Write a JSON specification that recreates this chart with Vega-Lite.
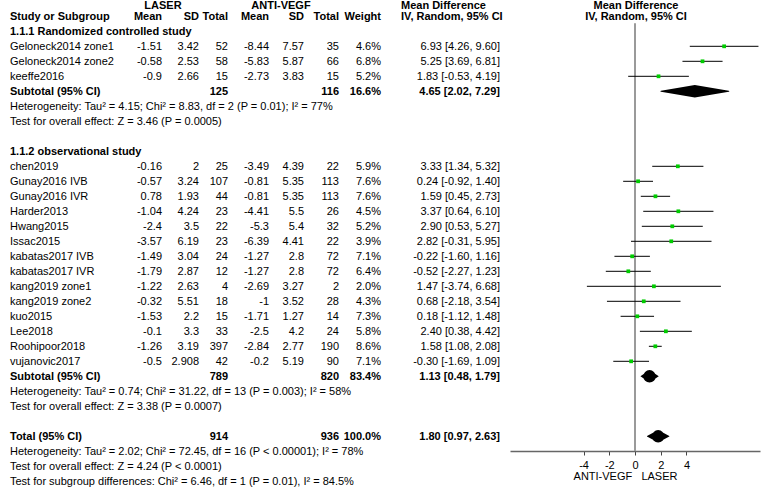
{
  "$schema": "https://vega.github.io/schema/vega-lite/v6.json",
  "width": 771,
  "height": 451,
  "autosize": "none",
  "padding": {"left": 0, "top": 0, "right": 0, "bottom": 38},
  "config": {
    "view": {"stroke": null},
    "text": {"font": "Liberation Sans", "fontSize": 11, "color": "#000", "baseline": "middle"},
    "axis": {"labelFont": "Liberation Sans", "titleFont": "Liberation Sans"}
  },
  "datasets": {
    "studies": [
      {"row": 3, "name": "Geloneck2014 zone1", "lmean": -1.51, "lsd": 3.42, "ltot": 52, "amean": -8.44, "asd": 7.57, "atot": 35, "weight": "4.6%", "md": 6.93, "lo": 4.26, "hi": 9.60, "ci": "6.93 [4.26, 9.60]"},
      {"row": 4, "name": "Geloneck2014 zone2", "lmean": -0.58, "lsd": 2.53, "ltot": 58, "amean": -5.83, "asd": 5.87, "atot": 66, "weight": "6.8%", "md": 5.25, "lo": 3.69, "hi": 6.81, "ci": "5.25 [3.69, 6.81]"},
      {"row": 5, "name": "keeffe2016", "lmean": -0.9, "lsd": 2.66, "ltot": 15, "amean": -2.73, "asd": 3.83, "atot": 15, "weight": "5.2%", "md": 1.83, "lo": -0.53, "hi": 4.19, "ci": "1.83 [-0.53, 4.19]"},
      {"row": 11, "name": "chen2019", "lmean": -0.16, "lsd": 2, "ltot": 25, "amean": -3.49, "asd": 4.39, "atot": 22, "weight": "5.9%", "md": 3.33, "lo": 1.34, "hi": 5.32, "ci": "3.33 [1.34, 5.32]"},
      {"row": 12, "name": "Gunay2016 IVB", "lmean": -0.57, "lsd": 3.24, "ltot": 107, "amean": -0.81, "asd": 5.35, "atot": 113, "weight": "7.6%", "md": 0.24, "lo": -0.92, "hi": 1.40, "ci": "0.24 [-0.92, 1.40]"},
      {"row": 13, "name": "Gunay2016 IVR", "lmean": 0.78, "lsd": 1.93, "ltot": 44, "amean": -0.81, "asd": 5.35, "atot": 113, "weight": "7.6%", "md": 1.59, "lo": 0.45, "hi": 2.73, "ci": "1.59 [0.45, 2.73]"},
      {"row": 14, "name": "Harder2013", "lmean": -1.04, "lsd": 4.24, "ltot": 23, "amean": -4.41, "asd": 5.5, "atot": 26, "weight": "4.5%", "md": 3.37, "lo": 0.64, "hi": 6.10, "ci": "3.37 [0.64, 6.10]"},
      {"row": 15, "name": "Hwang2015", "lmean": -2.4, "lsd": 3.5, "ltot": 22, "amean": -5.3, "asd": 5.4, "atot": 32, "weight": "5.2%", "md": 2.90, "lo": 0.53, "hi": 5.27, "ci": "2.90 [0.53, 5.27]"},
      {"row": 16, "name": "Issac2015", "lmean": -3.57, "lsd": 6.19, "ltot": 23, "amean": -6.39, "asd": 4.41, "atot": 22, "weight": "3.9%", "md": 2.82, "lo": -0.31, "hi": 5.95, "ci": "2.82 [-0.31, 5.95]"},
      {"row": 17, "name": "kabatas2017 IVB", "lmean": -1.49, "lsd": 3.04, "ltot": 24, "amean": -1.27, "asd": 2.8, "atot": 72, "weight": "7.1%", "md": -0.22, "lo": -1.60, "hi": 1.16, "ci": "-0.22 [-1.60, 1.16]"},
      {"row": 18, "name": "kabatas2017 IVR", "lmean": -1.79, "lsd": 2.87, "ltot": 12, "amean": -1.27, "asd": 2.8, "atot": 72, "weight": "6.4%", "md": -0.52, "lo": -2.27, "hi": 1.23, "ci": "-0.52 [-2.27, 1.23]"},
      {"row": 19, "name": "kang2019 zone1", "lmean": -1.22, "lsd": 2.63, "ltot": 4, "amean": -2.69, "asd": 3.27, "atot": 2, "weight": "2.0%", "md": 1.47, "lo": -3.74, "hi": 6.68, "ci": "1.47 [-3.74, 6.68]"},
      {"row": 20, "name": "kang2019 zone2", "lmean": -0.32, "lsd": 5.51, "ltot": 18, "amean": -1, "asd": 3.52, "atot": 28, "weight": "4.3%", "md": 0.68, "lo": -2.18, "hi": 3.54, "ci": "0.68 [-2.18, 3.54]"},
      {"row": 21, "name": "kuo2015", "lmean": -1.53, "lsd": 2.2, "ltot": 15, "amean": -1.71, "asd": 1.27, "atot": 14, "weight": "7.3%", "md": 0.18, "lo": -1.12, "hi": 1.48, "ci": "0.18 [-1.12, 1.48]"},
      {"row": 22, "name": "Lee2018", "lmean": -0.1, "lsd": 3.3, "ltot": 33, "amean": -2.5, "asd": 4.2, "atot": 24, "weight": "5.8%", "md": 2.40, "lo": 0.38, "hi": 4.42, "ci": "2.40 [0.38, 4.42]"},
      {"row": 23, "name": "Roohipoor2018", "lmean": -1.26, "lsd": 3.19, "ltot": 397, "amean": -2.84, "asd": 2.77, "atot": 190, "weight": "8.6%", "md": 1.58, "lo": 1.08, "hi": 2.08, "ci": "1.58 [1.08, 2.08]"},
      {"row": 24, "name": "vujanovic2017", "lmean": -0.5, "lsd": 2.908, "ltot": 42, "amean": -0.2, "asd": 5.19, "atot": 90, "weight": "7.1%", "md": -0.30, "lo": -1.69, "hi": 1.09, "ci": "-0.30 [-1.69, 1.09]"}
    ],
    "pooled": [
      {"row": 6, "name": "Subtotal (95% CI)", "ltot": 125, "atot": 116, "weight": "16.6%", "md": 4.65, "lo": 2.02, "hi": 7.29, "ci": "4.65 [2.02, 7.29]"},
      {"row": 25, "name": "Subtotal (95% CI)", "ltot": 789, "atot": 820, "weight": "83.4%", "md": 1.13, "lo": 0.48, "hi": 1.79, "ci": "1.13 [0.48, 1.79]"},
      {"row": 29, "name": "Total (95% CI)", "ltot": 914, "atot": 936, "weight": "100.0%", "md": 1.80, "lo": 0.97, "hi": 2.63, "ci": "1.80 [0.97, 2.63]"}
    ],
    "groups": [
      {"row": 2, "text": "1.1.1 Randomized controlled study"},
      {"row": 10, "text": "1.1.2 observational study"}
    ],
    "notes": [
      {"row": 7, "text": "Heterogeneity: Tau² = 4.15; Chi² = 8.83, df = 2 (P = 0.01); I² = 77%"},
      {"row": 8, "text": "Test for overall effect: Z = 3.46 (P = 0.0005)"},
      {"row": 26, "text": "Heterogeneity: Tau² = 0.74; Chi² = 31.22, df = 13 (P = 0.003); I² = 58%"},
      {"row": 27, "text": "Test for overall effect: Z = 3.38 (P = 0.0007)"},
      {"row": 30, "text": "Heterogeneity: Tau² = 2.02; Chi² = 72.45, df = 16 (P < 0.00001); I² = 78%"},
      {"row": 31, "text": "Test for overall effect: Z = 4.24 (P < 0.0001)"},
      {"row": 32, "text": "Test for subgroup differences: Chi² = 6.46, df = 1 (P = 0.01), I² = 84.5%"}
    ],
    "headers": [
      {"row": 0, "col": 9, "text": "LASER"},
      {"row": 0, "col": 10, "text": "ANTI-VEGF"},
      {"row": 0, "col": 11, "text": "Mean Difference"},
      {"row": 0, "col": 12, "text": "Mean Difference"},
      {"row": 1, "col": 0, "text": "Study or Subgroup"},
      {"row": 1, "col": 1, "text": "Mean"},
      {"row": 1, "col": 2, "text": "SD"},
      {"row": 1, "col": 3, "text": "Total"},
      {"row": 1, "col": 4, "text": "Mean"},
      {"row": 1, "col": 5, "text": "SD"},
      {"row": 1, "col": 6, "text": "Total"},
      {"row": 1, "col": 7, "text": "Weight"},
      {"row": 1, "col": 11, "text": "IV, Random, 95% CI"},
      {"row": 1, "col": 12, "text": "IV, Random, 95% CI"}
    ],
    "nullEffect": [
      {"md": 0}
    ]
  },
  "resolve": {"scale": {"x": "independent"}, "axis": {"x": "independent"}},
  "layer": [
    {
      "encoding": {
        "y": {"field": "row", "type": "quantitative", "scale": {"domain": [-0.0867, 29.98], "reverse": true, "nice": false, "zero": false}, "axis": null}
      },
      "layer": [
        {"data": {"values": [{}]}, "mark": {"type": "rule", "color": "#777", "strokeWidth": 1.5},
         "encoding": {"y": {"datum": 1.467, "type": "quantitative", "scale": {"domain": [-0.0867, 29.98], "reverse": true, "nice": false, "zero": false}, "axis": null}}},
        {"data": {"name": "studies"}, "mark": {"type": "text", "align": "left", "dy": 1},
         "encoding": {"x": {"datum": 0, "type": "quantitative", "scale": {"domain": [0,1,2,3,4,5,6,7,8,9,10,11,12], "range": [10,162,199,228,269,304,339,381,500,163,281,401,636], "nice": false, "zero": false}, "axis": null}, "text": {"field": "name", "type": "nominal"}}},
        {"data": {"name": "studies"}, "mark": {"type": "text", "align": "right", "dy": 1},
         "encoding": {"x": {"datum": 1, "type": "quantitative", "scale": {"domain": [0,1,2,3,4,5,6,7,8,9,10,11,12], "range": [10,162,199,228,269,304,339,381,500,163,281,401,636], "nice": false, "zero": false}, "axis": null}, "text": {"field": "lmean", "type": "nominal"}}},
        {"data": {"name": "studies"}, "mark": {"type": "text", "align": "right", "dy": 1},
         "encoding": {"x": {"datum": 2, "type": "quantitative", "scale": {"domain": [0,1,2,3,4,5,6,7,8,9,10,11,12], "range": [10,162,199,228,269,304,339,381,500,163,281,401,636], "nice": false, "zero": false}, "axis": null}, "text": {"field": "lsd", "type": "nominal"}}},
        {"data": {"name": "studies"}, "mark": {"type": "text", "align": "right", "dy": 1},
         "encoding": {"x": {"datum": 3, "type": "quantitative", "scale": {"domain": [0,1,2,3,4,5,6,7,8,9,10,11,12], "range": [10,162,199,228,269,304,339,381,500,163,281,401,636], "nice": false, "zero": false}, "axis": null}, "text": {"field": "ltot", "type": "nominal"}}},
        {"data": {"name": "studies"}, "mark": {"type": "text", "align": "right", "dy": 1},
         "encoding": {"x": {"datum": 4, "type": "quantitative", "scale": {"domain": [0,1,2,3,4,5,6,7,8,9,10,11,12], "range": [10,162,199,228,269,304,339,381,500,163,281,401,636], "nice": false, "zero": false}, "axis": null}, "text": {"field": "amean", "type": "nominal"}}},
        {"data": {"name": "studies"}, "mark": {"type": "text", "align": "right", "dy": 1},
         "encoding": {"x": {"datum": 5, "type": "quantitative", "scale": {"domain": [0,1,2,3,4,5,6,7,8,9,10,11,12], "range": [10,162,199,228,269,304,339,381,500,163,281,401,636], "nice": false, "zero": false}, "axis": null}, "text": {"field": "asd", "type": "nominal"}}},
        {"data": {"name": "studies"}, "mark": {"type": "text", "align": "right", "dy": 1},
         "encoding": {"x": {"datum": 6, "type": "quantitative", "scale": {"domain": [0,1,2,3,4,5,6,7,8,9,10,11,12], "range": [10,162,199,228,269,304,339,381,500,163,281,401,636], "nice": false, "zero": false}, "axis": null}, "text": {"field": "atot", "type": "nominal"}}},
        {"data": {"name": "studies"}, "mark": {"type": "text", "align": "right", "dy": 1},
         "encoding": {"x": {"datum": 7, "type": "quantitative", "scale": {"domain": [0,1,2,3,4,5,6,7,8,9,10,11,12], "range": [10,162,199,228,269,304,339,381,500,163,281,401,636], "nice": false, "zero": false}, "axis": null}, "text": {"field": "weight", "type": "nominal"}}},
        {"data": {"name": "studies"}, "mark": {"type": "text", "align": "right", "dy": 1},
         "encoding": {"x": {"datum": 8, "type": "quantitative", "scale": {"domain": [0,1,2,3,4,5,6,7,8,9,10,11,12], "range": [10,162,199,228,269,304,339,381,500,163,281,401,636], "nice": false, "zero": false}, "axis": null}, "text": {"field": "ci", "type": "nominal"}}},
        {"data": {"name": "pooled"}, "mark": {"type": "text", "align": "left", "dy": 1, "fontWeight": "bold"},
         "encoding": {"x": {"datum": 0, "type": "quantitative", "scale": {"domain": [0,1,2,3,4,5,6,7,8,9,10,11,12], "range": [10,162,199,228,269,304,339,381,500,163,281,401,636], "nice": false, "zero": false}, "axis": null}, "text": {"field": "name", "type": "nominal"}}},
        {"data": {"name": "pooled"}, "mark": {"type": "text", "align": "right", "dy": 1, "fontWeight": "bold"},
         "encoding": {"x": {"datum": 3, "type": "quantitative", "scale": {"domain": [0,1,2,3,4,5,6,7,8,9,10,11,12], "range": [10,162,199,228,269,304,339,381,500,163,281,401,636], "nice": false, "zero": false}, "axis": null}, "text": {"field": "ltot", "type": "nominal"}}},
        {"data": {"name": "pooled"}, "mark": {"type": "text", "align": "right", "dy": 1, "fontWeight": "bold"},
         "encoding": {"x": {"datum": 6, "type": "quantitative", "scale": {"domain": [0,1,2,3,4,5,6,7,8,9,10,11,12], "range": [10,162,199,228,269,304,339,381,500,163,281,401,636], "nice": false, "zero": false}, "axis": null}, "text": {"field": "atot", "type": "nominal"}}},
        {"data": {"name": "pooled"}, "mark": {"type": "text", "align": "right", "dy": 1, "fontWeight": "bold"},
         "encoding": {"x": {"datum": 7, "type": "quantitative", "scale": {"domain": [0,1,2,3,4,5,6,7,8,9,10,11,12], "range": [10,162,199,228,269,304,339,381,500,163,281,401,636], "nice": false, "zero": false}, "axis": null}, "text": {"field": "weight", "type": "nominal"}}},
        {"data": {"name": "pooled"}, "mark": {"type": "text", "align": "right", "dy": 1, "fontWeight": "bold"},
         "encoding": {"x": {"datum": 8, "type": "quantitative", "scale": {"domain": [0,1,2,3,4,5,6,7,8,9,10,11,12], "range": [10,162,199,228,269,304,339,381,500,163,281,401,636], "nice": false, "zero": false}, "axis": null}, "text": {"field": "ci", "type": "nominal"}}},
        {"data": {"name": "groups"}, "mark": {"type": "text", "align": "left", "dy": 1, "fontWeight": "bold"},
         "encoding": {"x": {"datum": 0, "type": "quantitative", "scale": {"domain": [0,1,2,3,4,5,6,7,8,9,10,11,12], "range": [10,162,199,228,269,304,339,381,500,163,281,401,636], "nice": false, "zero": false}, "axis": null}, "text": {"field": "text", "type": "nominal"}}},
        {"data": {"name": "notes"}, "mark": {"type": "text", "align": "left", "dy": 1},
         "encoding": {"x": {"datum": 0, "type": "quantitative", "scale": {"domain": [0,1,2,3,4,5,6,7,8,9,10,11,12], "range": [10,162,199,228,269,304,339,381,500,163,281,401,636], "nice": false, "zero": false}, "axis": null}, "text": {"field": "text", "type": "nominal"}}},
        {"data": {"name": "headers"}, "transform": [{"filter": "datum.row == 0 && datum.col != 11"}], "mark": {"type": "text", "align": "center", "dy": 4.3, "fontWeight": "bold"},
         "encoding": {"x": {"field": "col", "type": "quantitative", "scale": {"domain": [0,1,2,3,4,5,6,7,8,9,10,11,12], "range": [10,162,199,228,269,304,339,381,500,163,281,401,636], "nice": false, "zero": false}, "axis": null}, "text": {"field": "text", "type": "nominal"}}},
        {"data": {"name": "headers"}, "transform": [{"filter": "datum.row == 0 && datum.col == 11"}], "mark": {"type": "text", "align": "left", "dy": 4.3, "fontWeight": "bold"},
         "encoding": {"x": {"field": "col", "type": "quantitative", "scale": {"domain": [0,1,2,3,4,5,6,7,8,9,10,11,12], "range": [10,162,199,228,269,304,339,381,500,163,281,401,636], "nice": false, "zero": false}, "axis": null}, "text": {"field": "text", "type": "nominal"}}},
        {"data": {"name": "headers"}, "transform": [{"filter": "datum.row == 1 && (datum.col == 0 || datum.col == 11)"}], "mark": {"type": "text", "align": "left", "dy": 0.3, "fontWeight": "bold"},
         "encoding": {"x": {"field": "col", "type": "quantitative", "scale": {"domain": [0,1,2,3,4,5,6,7,8,9,10,11,12], "range": [10,162,199,228,269,304,339,381,500,163,281,401,636], "nice": false, "zero": false}, "axis": null}, "text": {"field": "text", "type": "nominal"}}},
        {"data": {"name": "headers"}, "transform": [{"filter": "datum.row == 1 && datum.col >= 1 && datum.col <= 7"}], "mark": {"type": "text", "align": "right", "dy": 0.3, "fontWeight": "bold"},
         "encoding": {"x": {"field": "col", "type": "quantitative", "scale": {"domain": [0,1,2,3,4,5,6,7,8,9,10,11,12], "range": [10,162,199,228,269,304,339,381,500,163,281,401,636], "nice": false, "zero": false}, "axis": null}, "text": {"field": "text", "type": "nominal"}}},
        {"data": {"name": "headers"}, "transform": [{"filter": "datum.row == 1 && datum.col == 12"}], "mark": {"type": "text", "align": "center", "dy": 0.3, "fontWeight": "bold"},
         "encoding": {"x": {"field": "col", "type": "quantitative", "scale": {"domain": [0,1,2,3,4,5,6,7,8,9,10,11,12], "range": [10,162,199,228,269,304,339,381,500,163,281,401,636], "nice": false, "zero": false}, "axis": null}, "text": {"field": "text", "type": "nominal"}}}
      ]
    },
    {
      "data": {"name": "nullEffect"},
      "mark": {"type": "rule", "color": "#9a9a9a", "strokeWidth": 2},
      "encoding": {
        "x": {"field": "md", "type": "quantitative", "scale": {"domain": [-9.72, 9.72], "range": [510, 760], "nice": false, "zero": false}, "axis": null},
        "y": {"datum": 1.467, "type": "quantitative", "scale": {"domain": [-0.0867, 29.98], "reverse": true, "nice": false, "zero": false}, "axis": null},
        "y2": {"datum": 29.98}
      }
    },
    {
      "encoding": {
        "y": {"field": "row", "type": "quantitative", "scale": {"domain": [-0.0867, 29.98], "reverse": true, "nice": false, "zero": false}, "axis": null}
      },
      "layer": [
        {"data": {"name": "studies"}, "mark": {"type": "rule", "color": "#000", "strokeWidth": 1},
         "encoding": {
           "x": {"field": "lo", "type": "quantitative", "scale": {"domain": [-9.72, 9.72], "range": [510, 760], "nice": false, "zero": false},
                 "axis": {"orient": "bottom", "values": [-4, -2, 0, 2, 4], "labelExpr": "'' + datum.value", "title": "ANTI-VEGF\u00a0 \u00a0LASER", "titleX": 625, "titleY": 25.6, "titleBaseline": "middle", "titleAlign": "center", "titleFontWeight": "normal", "titleFontSize": 11, "titleColor": "#000", "labelFontSize": 11, "labelColor": "#000", "labelPadding": 4, "labelFlush": false, "tickSize": 4, "tickColor": "#444", "domainColor": "#666", "domainWidth": 1.5, "grid": false}},
           "x2": {"field": "hi"}
         }},
        {"data": {"name": "studies"}, "mark": {"type": "point", "shape": "square", "filled": true, "color": "#00cc00", "size": 14, "opacity": 1},
         "encoding": {
           "x": {"field": "md", "type": "quantitative", "scale": {"domain": [-9.72, 9.72], "range": [510, 760], "nice": false, "zero": false},
                 "axis": {"orient": "bottom", "values": [-4, -2, 0, 2, 4], "labelExpr": "'' + datum.value", "title": "ANTI-VEGF\u00a0 \u00a0LASER", "titleX": 625, "titleY": 25.6, "titleBaseline": "middle", "titleAlign": "center", "titleFontWeight": "normal", "titleFontSize": 11, "titleColor": "#000", "labelFontSize": 11, "labelColor": "#000", "labelPadding": 4, "labelFlush": false, "tickSize": 4, "tickColor": "#444", "domainColor": "#666", "domainWidth": 1.5, "grid": false}}
         }},
        {"data": {"name": "pooled"}, "transform": [{"fold": ["lo", "md", "hi"]}], "mark": {"type": "trail", "color": "#000"},
         "encoding": {
           "x": {"field": "value", "type": "quantitative", "scale": {"domain": [-9.72, 9.72], "range": [510, 760], "nice": false, "zero": false},
                 "axis": {"orient": "bottom", "values": [-4, -2, 0, 2, 4], "labelExpr": "'' + datum.value", "title": "ANTI-VEGF\u00a0 \u00a0LASER", "titleX": 625, "titleY": 25.6, "titleBaseline": "middle", "titleAlign": "center", "titleFontWeight": "normal", "titleFontSize": 11, "titleColor": "#000", "labelFontSize": 11, "labelColor": "#000", "labelPadding": 4, "labelFlush": false, "tickSize": 4, "tickColor": "#444", "domainColor": "#666", "domainWidth": 1.5, "grid": false}},
           "detail": {"field": "row", "type": "nominal"},
           "order": {"field": "value", "type": "quantitative"},
           "size": {"condition": {"test": "datum.key == 'md'", "value": 12.5}, "value": 0}
         }}
      ]
    }
  ]
}
